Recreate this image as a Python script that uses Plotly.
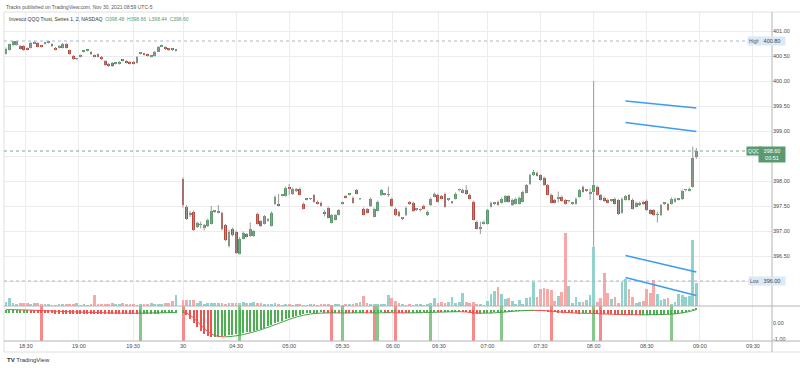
import plotly.graph_objects as go

# ---------------- data ----------------
# Nov 29 evening, 2-minute bars (bar slots 0..48)
pre_open = [400.55,400.63,400.72,400.73,400.71,400.71,400.65,400.67,400.75,400.77,
            400.71,400.75,400.77,400.74,400.67,400.67,400.67,400.75,400.62,400.51,
            400.44,400.49,400.59,400.61,400.59,400.52,400.54,400.49,400.41,400.35,
            400.37,400.35,400.35,400.43,400.41,400.39,400.39,400.37,400.54,400.55,
            400.54,400.49,400.51,400.59,400.69,400.69,400.65,400.65,400.61]
pre_high = [400.67,400.75,400.80,400.80,400.72,400.72,400.67,400.78,400.80,400.78,
            400.72,400.77,400.78,400.75,400.68,400.72,400.76,400.76,400.63,400.52,
            400.46,400.53,400.60,400.62,400.60,400.53,400.55,400.50,400.42,400.36,
            400.38,400.37,400.40,400.44,400.42,400.40,400.40,400.50,400.58,400.56,
            400.55,400.51,400.60,400.70,400.73,400.70,400.66,400.66,400.63]
pre_low = [400.53,400.61,400.70,400.71,400.63,400.60,400.61,400.65,400.74,400.67,
           400.67,400.73,400.75,400.68,400.61,400.65,400.65,400.65,400.52,400.42,
           400.42,400.47,400.57,400.59,400.52,400.47,400.47,400.42,400.30,400.28,
           400.28,400.33,400.33,400.39,400.35,400.33,400.33,400.35,400.53,400.51,
           400.49,400.47,400.49,400.58,400.68,400.62,400.60,400.60,400.59]
pre_close = [400.65,400.74,400.80,400.80,400.65,400.62,400.63,400.77,400.79,400.69,
             400.69,400.75,400.77,400.70,400.63,400.71,400.75,400.67,400.54,400.44,
             400.44,400.52,400.59,400.61,400.54,400.49,400.49,400.44,400.32,400.30,
             400.30,400.35,400.39,400.41,400.37,400.35,400.35,400.49,400.57,400.53,
             400.51,400.49,400.59,400.69,400.72,400.64,400.62,400.62,400.61]

# Nov 30 from 04:00, 2-minute bars (bar slots 50..195)
sess_open = [398.05,397.49,397.32,397.39,397.09,397.12,397.07,397.11,397.15,397.39,
             397.37,397.37,397.12,396.70,397.05,396.99,396.55,396.85,396.94,396.90,
             396.90,397.35,397.20,397.15,397.21,397.11,397.54,397.55,397.71,397.71,
             397.89,397.74,397.80,397.85,397.55,397.63,397.64,397.72,397.59,397.57,
             397.39,397.47,397.17,397.23,397.33,397.55,397.70,397.73,397.67,397.82,
             397.64,397.45,397.44,397.50,397.29,397.41,397.72,397.73,397.72,397.65,
             397.45,397.39,
             397.25,397.32,397.57,397.57,397.43,397.42,397.51,397.32,397.52,397.69,
             397.73,397.70,397.75,397.63,397.57,397.65,397.82,397.77,397.82,397.73,
             397.59,397.19,397.05,397.15,397.15,397.49,397.55,397.59,397.57,397.59,
             397.70,397.52,397.55,397.55,397.59,397.77,397.94,398.12,398.17,398.12,
             398.07,397.92,397.73,397.62,397.65,397.69,397.62,397.60,397.55,397.55,
             397.69,397.89,397.81,397.75,397.79,397.89,397.72,397.67,397.63,397.61,
             397.65,397.62,397.37,397.63,397.72,397.63,397.49,397.52,397.59,397.61,
             397.42,397.42,397.32,397.32,397.55,397.54,397.55,397.59,397.63,397.64,
             397.82,397.81,397.89,398.48]
sess_high = [398.07,397.52,397.40,397.41,397.19,397.19,397.14,397.25,397.50,397.42,
             397.52,397.39,397.14,397.02,397.07,397.01,396.88,396.99,396.96,397.17,
             397.02,397.37,397.22,397.32,397.26,397.39,397.71,397.74,397.73,397.89,
             397.94,397.87,397.86,397.87,397.57,397.65,397.66,397.74,397.61,397.59,
             397.42,397.49,397.34,397.34,397.44,397.57,397.72,397.75,397.69,397.84,
             397.66,397.47,397.46,397.67,397.47,397.61,397.84,397.75,397.89,397.67,
             397.47,397.41,
             397.28,397.49,397.60,397.59,397.46,397.45,397.53,397.41,397.67,397.77,
             397.75,397.72,397.77,397.66,397.60,397.77,397.85,397.85,397.92,397.75,
             397.61,397.21,397.19,397.21,397.44,397.59,397.58,397.61,397.67,397.72,
             397.72,397.65,397.67,397.69,397.81,397.94,398.14,398.22,398.19,398.14,
             398.09,397.94,397.75,397.64,397.79,397.71,397.64,397.62,397.57,397.67,
             397.84,397.91,397.83,397.85,400.00,397.91,397.74,397.69,397.65,397.63,
             397.67,397.64,397.67,397.72,397.74,397.65,397.59,397.59,397.61,397.63,
             397.44,397.44,397.39,397.54,397.57,397.56,397.67,397.67,397.65,397.83,
             397.84,397.87,398.69,398.66]
sess_low = [397.47,397.22,397.28,397.00,397.06,397.05,397.01,397.08,397.13,397.36,
            397.35,397.01,396.80,396.67,396.89,396.54,396.53,396.83,396.87,396.88,
            396.88,397.13,397.08,397.13,397.19,397.09,397.52,397.49,397.69,397.69,
            397.72,397.72,397.78,397.71,397.43,397.61,397.62,397.57,397.53,397.49,
            397.29,397.25,397.15,397.21,397.31,397.53,397.65,397.71,397.55,397.73,
            397.62,397.31,397.35,397.48,397.27,397.39,397.70,397.71,397.68,397.48,
            397.30,397.28,
            397.22,397.30,397.52,397.38,397.40,397.39,397.43,397.30,397.50,397.67,
            397.57,397.63,397.47,397.60,397.54,397.63,397.79,397.75,397.72,397.63,
            397.21,397.03,396.94,397.13,397.13,397.47,397.52,397.51,397.55,397.57,
            397.57,397.50,397.53,397.53,397.57,397.75,397.92,398.10,398.09,398.00,
            397.90,397.71,397.55,397.55,397.57,397.58,397.53,397.57,397.52,397.53,
            397.67,397.77,397.78,397.62,396.00,397.70,397.61,397.58,397.55,397.58,
            397.53,397.32,397.35,397.61,397.61,397.43,397.47,397.50,397.52,397.40,
            397.33,397.30,397.17,397.30,397.52,397.40,397.53,397.57,397.61,397.62,
            397.79,397.79,397.87,398.44]
sess_close = [397.52,397.25,397.35,397.03,397.17,397.12,397.12,397.23,397.41,397.39,
              397.37,397.04,396.83,396.99,396.92,396.57,396.85,396.97,396.89,397.04,
              397.00,397.15,397.10,397.30,397.24,397.37,397.69,397.51,397.71,397.87,
              397.85,397.85,397.84,397.73,397.45,397.63,397.64,397.59,397.55,397.51,
              397.35,397.27,397.32,397.32,397.42,397.55,397.67,397.73,397.57,397.75,
              397.64,397.33,397.37,397.65,397.45,397.59,397.82,397.73,397.72,397.50,
              397.32,397.30,
              397.25,397.47,397.54,397.40,397.43,397.42,397.45,397.39,397.65,397.75,
              397.59,397.65,397.49,397.63,397.57,397.75,397.82,397.83,397.74,397.65,
              397.23,397.05,397.05,397.19,397.42,397.57,397.55,397.53,397.65,397.70,
              397.59,397.63,397.65,397.67,397.79,397.92,398.12,398.19,398.11,398.02,
              397.92,397.73,397.57,397.57,397.65,397.60,397.55,397.60,397.55,397.65,
              397.82,397.79,397.81,397.75,397.92,397.72,397.63,397.60,397.57,397.61,
              397.55,397.35,397.65,397.70,397.63,397.45,397.57,397.57,397.54,397.42,
              397.35,397.32,397.32,397.52,397.55,397.42,397.65,397.65,397.63,397.81,
              397.82,397.85,398.47,398.60]

# volume (thousand shares)
vol_pre = [4, 8, 2.7, 1.7, 2.7, 2.7, 2.7, 1.7, 2.7, 2.7,
           1.5, 1.5, 2, 1, 1, 1.5, 2, 1.5, 2, 2.5,
           3, 1, 1.5, 1, 2, 10.7, 2.5, 2.5, 2, 2,
           3, 2, 1.5, 3, 2, 1.5, 2, 1, 2.5, 1.5,
           2.5, 3, 2, 2.5, 2.5, 3, 3, 5, 11]
vol_sess = [6, 6, 5.7, 6, 2.7, 5, 1.7, 2.7, 3.3, 2.7,
            2.7, 2.7, 2.3, 2.7, 2.7, 2.7, 2.7, 4, 3.3, 2.7,
            4.3, 2.7, 2.7,
            2, 1.5, 2, 3, 1.5, 1, 2, 1.5, 1, 2,
            1.5, 1, 1, 2, 1.5, 1, 2, 1.5, 2.5, 1,
            2, 1.5, 1, 2, 1.5, 2.5, 3, 4,
            10, 3, 2, 1.5, 2, 1.5, 2.5, 11, 7.7, 5,
            3, 1.5, 1, 1.5, 1, 2, 1.5, 1, 2, 3,
            7.7, 2.7, 4.3, 3.3, 4.3, 9.3, 3.3, 4, 13.3, 4.3,
            3.3, 4.3, 1.7, 2, 1,
            5, 11.7, 15, 19, 11.7, 6.7, 7.7, 5, 2.3, 6,
            2.3, 7.7, 9, 24.3, 9, 16.7, 17.7, 16.7, 16, 5,
            10, 14.3, 73.3, 20, 2.7, 9, 4, 4.3, 5.7, 11,
            59.3, 4, 7.7, 33.3, 13.3, 6.7, 9.3, 2.7, 24.3, 26.7,
            17.3, 9, 2.7, 4, 5, 16.7, 13.3, 25.7, 11.7, 6,
            6.7, 7.7, 1.7, 4, 12.3, 11, 9, 10, 65.7, 22.7]

# oscillator: histogram and its signal line
hist_pre = [-3.0, -2.95, -2.9, -2.85, -2.8, -2.75, -2.7, -2.8, -2.9, -3.0,
            -3.1, -3.2, -3.3, -3.4, -3.5, -3.55, -3.6, -3.65, -3.7, -3.75,
            -3.8, -3.82, -3.84, -3.86, -3.88, -3.9, -3.92, -3.94, -3.96, -3.98,
            -4.0, -4.02, -4.04, -4.06, -4.08, -4.1, -4.12, -4.14, -4.0, -3.9,
            -3.8, -3.7, -3.6, -3.5, -3.4, -3.3, -3.2, -3.1, -3.0]
line_pre = [0.6, 0.5, 0.4, 0.3, 0.2, 0.1, 0.0, -0.1, -0.25, -0.4,
            -0.55, -0.7, -0.85, -1.0, -1.15, -1.3, -1.45, -1.6, -1.75, -1.9,
            -2.0, -2.1, -2.2, -2.3, -2.4, -2.5, -2.6, -2.7, -2.8, -2.9,
            -2.95, -3.0, -3.05, -3.1, -3.15, -3.2, -3.25, -3.3, -3.2, -3.1,
            -3.0, -2.95, -2.9, -2.85, -2.8, -2.75, -2.7, -2.65, -2.6]
hist_sess = [-2.5, -5, -9, -13, -17, -21, -24, -26, -27, -26.8,
             -26.5, -26, -25.5, -25, -24.5, -24, -23.5, -23, -22.3, -21.7,
             -20.8, -19.8, -18.7, -17.5, -16.2, -14.8, -13.4, -12, -10.6, -9.2,
             -7.9, -6.7, -5.6, -4.7, -4, -3.4, -3, -2.7, -2.5, -2.4,
             -2.6, -2.9, -3.1, -3.0, -2.8, -2.6, -2.7, -2.9, -3.0, -2.8,
             -2.6, -2.5, -2.7, -2.8, -2.6, -2.4, -2.3, -2.5, -2.6, -2.4,
             -2.3, -2.5, -2.8, -3.0, -3.1, -2.9, -2.7, -2.6, -2.4, -2.2,
             -2.0, -1.9, -2.1, -2.3, -2.2, -2.0, -1.8, -1.7, -1.6, -1.9,
             -2.4, -3.0, -3.5, -3.8, -3.6, -3.3, -3.0, -2.7, -2.4, -2.0,
             -1.7, -1.4, -1.1, -0.8, -0.6, -0.4, -0.3, -0.2, -0.1, -0.2,
             -0.4, -0.7, -1.0, -1.4, -1.8, -2.2, -2.5, -2.8, -3.0, -3.2,
             -3.3, -3.4, -3.5, -3.4, -3.3, -3.4, -3.6, -3.8, -4.0, -4.2,
             -4.3, -4.4, -4.5, -4.6, -4.6, -4.7, -4.8, -4.8, -4.9, -5.0,
             -5.0, -4.9, -4.8, -4.8, -4.7, -4.6, -4.4, -4.2, -3.9, -3.5,
             -3.0, -2.5, -1.8, -1.0, 0.5, 1.5]
line_sess = [-2.5, -3, -5, -8, -11.5, -15, -18.5, -21.5, -24, -25.5,
             -26.3, -26.7, -26.8, -26.6, -26.3, -25.8, -25.2, -24.5, -23.7, -22.8,
             -21.8, -20.8, -19.7, -18.5, -17.3, -16, -14.7, -13.4, -12, -10.7,
             -9.4, -8.2, -7.1, -6.1, -5.3, -4.6, -4, -3.6, -3.3, -3.1,
             -3.0, -2.95, -2.9, -2.9, -2.95, -3.0, -3.0, -2.95, -2.9, -2.85,
             -2.8, -2.8, -2.85, -2.9, -2.9, -2.85, -2.8, -2.75, -2.7, -2.7,
             -2.75, -2.8, -2.85, -2.9, -2.9, -2.85, -2.8, -2.7, -2.6, -2.5,
             -2.4, -2.3, -2.2, -2.1, -2.0, -1.9, -1.8, -1.75, -1.7, -1.8,
             -2.0, -2.3, -2.6, -2.9, -3.1, -3.2, -3.1, -3.0, -2.8, -2.6,
             -2.3, -2.0, -1.7, -1.4, -1.1, -0.9, -0.7, -0.5, -0.4, -0.35,
             -0.4, -0.5, -0.7, -0.9, -1.2, -1.5, -1.8, -2.1, -2.4, -2.7,
             -2.9, -3.1, -3.2, -3.3, -3.3, -3.4, -3.5, -3.6, -3.8, -4.0,
             -4.1, -4.2, -4.3, -4.4, -4.5, -4.6, -4.65, -4.7, -4.75, -4.8,
             -4.8, -4.8, -4.75, -4.7, -4.65, -4.55, -4.45, -4.3, -4.1, -3.8,
             -3.4, -2.9, -2.3, -1.6, -0.6, 0.4]

# full-height signal markers (bar slots)
signal_sell = [10, 50, 92, 104, 110, 132, 154, 168]
signal_buy = [38, 66, 95, 105, 120, 140, 166, 188]

# time axis
tick_slots = [5.6, 20.6, 35.9, 50, 65, 80, 95, 109.3, 122.3, 136, 151, 166, 181, 196, 211]
tick_labels = ["18:30", "19:00", "19:30", "30", "04:30", "05:00", "05:30", "06:00",
               "06:30", "07:00", "07:30", "08:00", "08:30", "09:00", "09:30"]
price_ticks = [396.0, 396.5, 397.0, 397.5, 398.0, 398.5, 399.0, 399.5, 400.0, 400.5, 401.0]
osc_ticks = [0, -1]

# drawn trend lines: (slot0, price0, slot1, price1)
trend_lines = [(175, 399.60, 195, 399.46),
               (175, 399.17, 195, 398.99),
               (175, 396.51, 195, 396.18),
               (175, 396.07, 195, 395.71)]

# ---------------- assembly ----------------
X = list(range(len(pre_open))) + list(range(50, 50 + len(sess_open)))
O = pre_open + sess_open
H = pre_high + sess_high
L = pre_low + sess_low
C = pre_close + sess_close
V = vol_pre + vol_sess
HIST = hist_pre + hist_sess
LINE = line_pre + line_sess

UP, DN = "#5b9a6e", "#b5473d"
VUP, VDN = "#93d2cc", "#f7a9a7"
GRID = "#ececec"
FONT = "Liberation Sans, Arial, sans-serif"
FS = 5.5
up = [c >= o for o, c in zip(O, C)]

fig = go.Figure()

# wicks
wx, wy = [], []
for xi, hi_, lo_ in zip(X, H, L):
    wx += [xi, xi, None]
    wy += [lo_, hi_, None]
fig.add_trace(go.Scatter(x=wx, y=wy, mode="lines", line=dict(color="#9a9a9a", width=1),
                         hoverinfo="skip", xaxis="x", yaxis="y"))
# bodies
fig.add_trace(go.Bar(x=X, base=[min(o, c) for o, c in zip(O, C)],
                     y=[max(abs(c - o), 0.02) for o, c in zip(O, C)],
                     width=0.8, marker=dict(color=[UP if u else DN for u in up], line=dict(width=0)),
                     xaxis="x", yaxis="y"))
# volume
fig.add_trace(go.Bar(x=X, y=V, width=0.78,
                     marker=dict(color=[VUP if u else VDN for u in up], line=dict(width=0)),
                     xaxis="x", yaxis="y3"))

# signals on the oscillator pane
fig.add_trace(go.Bar(x=signal_sell, y=[2.1875] * len(signal_sell), base=-1.125, width=0.85,
                     marker=dict(color="#f7898b", line=dict(width=0)), xaxis="x2", yaxis="y2"))
fig.add_trace(go.Bar(x=signal_buy, y=[2.1875] * len(signal_buy), base=-1.125, width=0.85,
                     marker=dict(color="#86c889", line=dict(width=0)), xaxis="x2", yaxis="y2"))

# histogram colored by direction
hcol = []
for i, v in enumerate(HIST):
    prev = HIST[i - 1] if i > 0 and X[i] - X[i - 1] == 1 else None
    hcol.append("#4caf50" if prev is None or v >= prev else "#ef5350")
fig.add_trace(go.Bar(x=X, y=HIST, width=0.35, marker=dict(color=hcol, line=dict(width=0)),
                     xaxis="x2", yaxis="y4"))

# signal line colored by slope
gx, gy, rx, ry = [], [], [], []
for i in range(1, len(X)):
    if X[i] - X[i - 1] != 1:
        continue
    seg_x = [X[i - 1], X[i], None]
    seg_y = [LINE[i - 1], LINE[i], None]
    if LINE[i] >= LINE[i - 1]:
        gx += seg_x; gy += seg_y
    else:
        rx += seg_x; ry += seg_y
fig.add_trace(go.Scatter(x=gx, y=gy, mode="lines", line=dict(color="#43a047", width=1),
                         xaxis="x2", yaxis="y4", hoverinfo="skip"))
fig.add_trace(go.Scatter(x=rx, y=ry, mode="lines", line=dict(color="#ef5350", width=1),
                         xaxis="x2", yaxis="y4", hoverinfo="skip"))

# ---------------- layout ----------------
W, Hh = 800, 368
ml, mr, mt, mb = 4, 28, 12, 27
pw, ph = W - ml - mr, Hh - mt - mb
d0 = 35 / ph
px = lambda p: (p - ml) / pw
py = lambda p: (Hh - mb - p) / ph

hi_v, lo_v, last = max(H), min(L), C[-1]

fig.update_layout(
    width=W, height=Hh, margin=dict(l=ml, r=mr, t=mt, b=mb),
    paper_bgcolor="white", plot_bgcolor="white", showlegend=False,
    barmode="overlay", bargap=0, font=dict(family=FONT, size=FS, color="#4a4a4a"),
    xaxis=dict(domain=[0, 1], anchor="y", range=[-0.565, 216.38], tickvals=tick_slots,
               showticklabels=False, showgrid=True, gridcolor=GRID, zeroline=False, ticks=""),
    xaxis2=dict(domain=[0, 1], anchor="y2", matches="x", tickvals=tick_slots, ticktext=tick_labels,
                showgrid=True, gridcolor=GRID, zeroline=False, ticks="",
                tickfont=dict(size=FS, color="#4a4a4a")),
    yaxis=dict(domain=[d0, 1], anchor="x", side="right", range=[395.5, 401.38],
               tickvals=price_ticks,
               ticktext=["" if t in (396.0, 398.5) else f"{t:.2f}" for t in price_ticks],
               showgrid=True, gridcolor=GRID, zeroline=False, ticks="",
               tickfont=dict(size=FS, color="#4a4a4a")),
    yaxis3=dict(domain=[d0, 1], anchor="x", overlaying="y", range=[0, 294], visible=False),
    yaxis2=dict(domain=[0, d0], anchor="x2", side="right", range=[-1.125, 1.0625],
                tickvals=osc_ticks, ticktext=[f"{t:.2f}" for t in osc_ticks],
                showgrid=False, zeroline=False, ticks="", tickfont=dict(size=FS, color="#4a4a4a")),
    yaxis4=dict(domain=[0, d0], anchor="x2", overlaying="y2", range=[-31, 4], visible=False),
)

shapes = []
# frame and pane separators
shapes.append(dict(type="line", xref="paper", yref="paper", x0=0, x1=px(800), y0=1, y1=1,
                   line=dict(color="#e0e0e0", width=1)))
shapes.append(dict(type="line", xref="paper", yref="paper", x0=0, x1=0, y0=py(352), y1=1,
                   line=dict(color="#e0e0e0", width=1)))
shapes.append(dict(type="line", xref="paper", yref="paper", x0=0, x1=px(800), y0=py(352), y1=py(352),
                   line=dict(color="#e0e0e0", width=1)))
shapes.append(dict(type="line", xref="paper", yref="paper", x0=1, x1=1, y0=py(352), y1=1,
                   line=dict(color="#b4b4b4", width=1)))
for yy in (d0, 0):
    shapes.append(dict(type="line", xref="paper", yref="paper", x0=0, x1=px(800), y0=yy, y1=yy,
                       line=dict(color="#b4b4b4", width=1)))
# high / low / last price lines
for lvl, col in ((hi_v, "#a9b6c8"), (lo_v, "#a9b6c8"), (last, "#7aa98a")):
    shapes.append(dict(type="line", xref="paper", yref="y", x0=0, x1=1, y0=lvl, y1=lvl,
                       line=dict(color=col, width=1, dash="dot")))
# trend lines
for (a0, p0, a1, p1) in trend_lines:
    shapes.append(dict(type="line", xref="x", yref="y", x0=a0, x1=a1, y0=p0, y1=p1,
                       line=dict(color="#3d9cf2", width=1.5)))
fig.update_layout(shapes=shapes)

ann = []
ann.append(dict(xref="paper", yref="paper", x=px(4), y=py(7), xanchor="left", yanchor="middle",
                text="Tracks published on TradingView.com, Nov 30, 2021 08:59 UTC-5",
                showarrow=False, font=dict(size=5, color="#555555")))
ohlc = (f"O{O[-1]:.2f}&nbsp;&nbsp;H{H[-1]:.2f}&nbsp;&nbsp;L{L[-1]:.2f}&nbsp;&nbsp;C{C[-1]:.2f}")
ann.append(dict(xref="paper", yref="paper", x=px(7), y=py(19), xanchor="left", yanchor="middle",
                text=f"Invesco QQQ Trust, Series 1, 2, NASDAQ&nbsp;&nbsp;<span style='color:{UP}'>{ohlc}</span>",
                showarrow=False, font=dict(size=5, color="#333333")))
LB = "#dbe8f8"
for lvl, tag in ((hi_v, "High"), (lo_v, "Low")):
    ann.append(dict(xref="paper", yref="y", x=px(762), y=lvl, text=tag, showarrow=False,
                    bgcolor=LB, borderpad=1, font=dict(size=5, color="#555555")))
    ann.append(dict(xref="paper", yref="y", x=px(786), y=lvl, text=f"{lvl:.2f}", showarrow=False,
                    bgcolor=LB, borderpad=1, width=24, font=dict(size=FS, color="#444444")))
ann.append(dict(xref="paper", yref="y", x=px(762), y=last, text="QQQ", showarrow=False,
                bgcolor=UP, borderpad=1, font=dict(size=5, color="white")))
ann.append(dict(xref="paper", yref="y", x=px(786), y=last, yanchor="top", yshift=5,
                text=f"{last:.2f}<br>00:51", showarrow=False, bgcolor=UP, borderpad=1, width=24,
                font=dict(size=FS, color="white")))
ann.append(dict(xref="paper", yref="paper", x=px(5), y=py(360), xanchor="left", yanchor="middle",
                text="<b>TV</b> TradingView", showarrow=False, font=dict(size=6, color="#333333")))
fig.update_layout(annotations=ann)

fig.write_html("out.html", config={"displayModeBar": False},
               post_script="document.body.style.margin='0';document.body.style.overflow='hidden';")
